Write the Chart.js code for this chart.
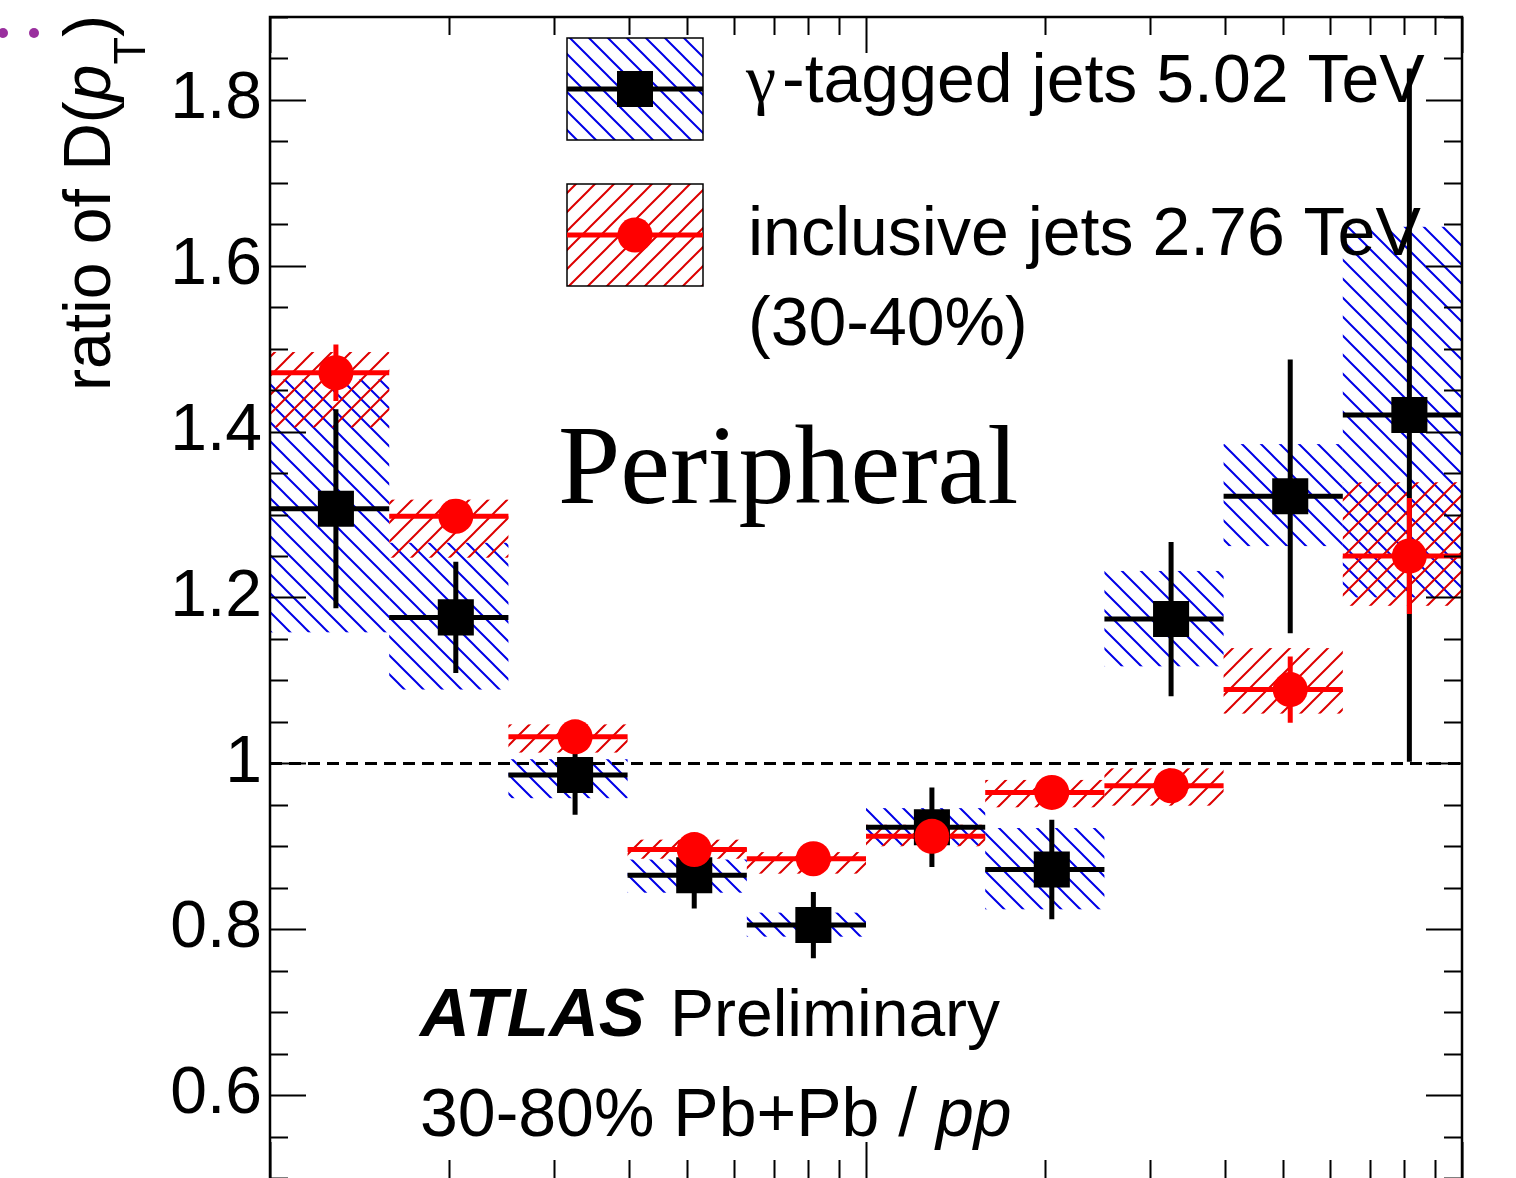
<!DOCTYPE html>
<html>
<head>
<meta charset="utf-8">
<script src="https://cdn.jsdelivr.net/npm/chart.js@4.4.0/dist/chart.umd.min.js"></script>
<style>
  html, body { margin: 0; padding: 0; background: #fff; overflow: hidden; }
  #wrap { width: 1516px; height: 1178px; }
</style>
</head>
<body>
<div id="wrap"><canvas id="chart" width="1516" height="1178"></canvas></div>
<script>
// pT bins (log axis 1..100, five bins per decade), points sit at the arithmetic bin centre
const binEdges = [1, 1.585, 2.512, 3.981, 6.310, 10, 15.85, 25.12, 39.81, 63.10, 100];
const binCenters = [1.29, 2.05, 3.25, 5.15, 8.16, 12.9, 20.5, 32.5, 51.5, 81.6];

// gamma-tagged jets 5.02 TeV
const gammaRatio = [1.307, 1.176, 0.986, 0.865, 0.805, 0.923, 0.872, 1.174, 1.322, 1.420];
const gammaStat = [0.120, 0.067, 0.048, 0.040, 0.040, 0.048, 0.060, 0.093, 0.165, 0.418];
const gammaSystLo = [1.158, 1.089, 0.958, 0.844, 0.791, 0.901, 0.824, 1.117, 1.262, 1.200];
const gammaSystHi = [1.463, 1.266, 1.005, 0.884, 0.820, 0.946, 0.922, 1.232, 1.385, 1.647];

// inclusive jets 2.76 TeV (30-40%)
const inclRatio = [1.471, 1.298, 1.032, 0.896, 0.885, 0.912, 0.965, 0.973, 1.089, 1.250];
const inclStat = [0.034, 0.015, 0.012, 0.010, 0.010, 0.010, 0.012, 0.012, 0.040, 0.070];
const inclSystLo = [1.405, 1.248, 1.013, 0.885, 0.867, 0.900, 0.947, 0.949, 1.060, 1.190];
const inclSystHi = [1.496, 1.318, 1.047, 0.908, 0.893, 0.926, 0.980, 0.994, 1.139, 1.339];

const yTickLabels = [0.6, 0.8, 1, 1.2, 1.4, 1.6, 1.8];
const legendLabels = ['γ-tagged jets 5.02 TeV', 'inclusive jets 2.76 TeV'];

const SANS = '"Liberation Sans", Arial, Helvetica, sans-serif';
const SERIF = '"Liberation Serif", "Times New Roman", serif';
const BLUE = '#0000e6';
const RED = '#ff0000';
const RED_HATCH = '#dd0000';

let patterns = null;
function hatch(ctx, color, rising) {
  const s = 19;
  const c = document.createElement('canvas');
  c.width = s; c.height = s;
  const g = c.getContext('2d');
  g.strokeStyle = color;
  g.lineWidth = 2;
  g.beginPath();
  if (rising) {
    g.moveTo(-2, s + 2); g.lineTo(s + 2, -2);
    g.moveTo(-2, 2); g.lineTo(2, -2);
    g.moveTo(s - 2, s + 2); g.lineTo(s + 2, s - 2);
  } else {
    g.moveTo(-2, -2); g.lineTo(s + 2, s + 2);
    g.moveTo(s - 2, -2); g.lineTo(s + 2, 2);
    g.moveTo(-2, s - 2); g.lineTo(2, s + 2);
  }
  g.stroke();
  return ctx.createPattern(c, 'repeat');
}

function drawBoxes(ctx, x, y, lo, hi, fill) {
  ctx.fillStyle = fill;
  lo.forEach((v, i) => {
    const x0 = x.getPixelForValue(binEdges[i]);
    const x1 = x.getPixelForValue(binEdges[i + 1]);
    const y0 = y.getPixelForValue(hi[i]);
    const y1 = y.getPixelForValue(v);
    ctx.fillRect(x0, y0, x1 - x0, y1 - y0);
  });
}

function drawErrors(ctx, x, y, vals, errs, color) {
  ctx.strokeStyle = color;
  ctx.lineWidth = 5;
  ctx.lineCap = 'butt';
  vals.forEach((v, i) => {
    const xc = x.getPixelForValue(binCenters[i]);
    const yc = y.getPixelForValue(v);
    ctx.beginPath();
    ctx.moveTo(x.getPixelForValue(binEdges[i]), yc);
    ctx.lineTo(x.getPixelForValue(binEdges[i + 1]), yc);
    ctx.moveTo(xc, y.getPixelForValue(v + errs[i]));
    ctx.lineTo(xc, y.getPixelForValue(v - errs[i]));
    ctx.stroke();
  });
}

function drawFrame(ctx, a, x, y) {
  ctx.strokeStyle = '#000';
  ctx.lineWidth = 2;
  ctx.beginPath();
  for (let k = 10; k <= 38; k++) {
    const py = Math.round(y.getPixelForValue(k * 0.05)) + 0.5;
    const len = k % 4 === 0 ? 36 : 18;
    ctx.moveTo(a.left, py); ctx.lineTo(a.left + len, py);
    ctx.moveTo(a.right, py); ctx.lineTo(a.right - len, py);
  }
  [1, 10].forEach((d) => {
    for (let m = 1; m <= 10; m++) {
      const px = Math.round(x.getPixelForValue(m * d)) + 0.5;
      const len = (m === 1 || m === 10) ? 36 : 18;
      ctx.moveTo(px, a.top); ctx.lineTo(px, a.top + len);
      ctx.moveTo(px, a.bottom); ctx.lineTo(px, a.bottom - len);
    }
  });
  ctx.stroke();
  ctx.lineWidth = 2.5;
  ctx.beginPath();
  ctx.moveTo(a.left, a.bottom + 2);
  ctx.lineTo(a.left, a.top);
  ctx.lineTo(a.right, a.top);
  ctx.lineTo(a.right, a.bottom + 2);
  ctx.stroke();
}

function drawYTitle(ctx) {
  const parts = [
    ['ratio of D(', `66px ${SANS}`, 0],
    ['p', `italic 66px ${SANS}`, 0],
    ['T', `45px ${SANS}`, 35],
    [')', `66px ${SANS}`, 0]
  ];
  let total = 0;
  const widths = parts.map(([t, f]) => { ctx.font = f; const w = ctx.measureText(t).width; total += w; return w; });
  ctx.save();
  ctx.translate(110, 15 + total);
  ctx.rotate(-Math.PI / 2);
  ctx.fillStyle = '#000';
  ctx.textBaseline = 'alphabetic';
  ctx.textAlign = 'left';
  let pos = 0;
  parts.forEach(([t, f, dy], i) => { ctx.font = f; ctx.fillText(t, pos, dy); pos += widths[i]; });
  ctx.restore();
}

function drawLegend(ctx) {
  const rows = [
    { top: 38, fill: patterns.blue, line: '#000', marker: 'rect' },
    { top: 184, fill: patterns.red, line: RED, marker: 'circle' }
  ];
  rows.forEach((r) => {
    const x0 = 567, w = 136, h = 102, cy = r.top + h / 2;
    ctx.fillStyle = r.fill;
    ctx.fillRect(x0, r.top, w, h);
    ctx.strokeStyle = '#000';
    ctx.lineWidth = 1.5;
    ctx.strokeRect(x0, r.top, w, h);
    ctx.strokeStyle = r.line;
    ctx.lineWidth = 5;
    ctx.beginPath(); ctx.moveTo(x0, cy); ctx.lineTo(x0 + w, cy); ctx.stroke();
    if (r.marker === 'rect') {
      ctx.fillStyle = '#000';
      ctx.fillRect(635 - 18, cy - 18, 36, 36);
    } else {
      ctx.fillStyle = RED;
      ctx.beginPath(); ctx.arc(635, cy, 17.5, 0, Math.PI * 2); ctx.fill();
    }
  });
  ctx.fillStyle = '#000';
  ctx.textAlign = 'left';
  ctx.textBaseline = 'alphabetic';
  ctx.font = `68px ${SERIF}`;
  ctx.fillText(legendLabels[0].slice(0, 1), 746, 102);
  ctx.font = `68px ${SANS}`;
  ctx.fillText(legendLabels[0].slice(1), 782, 102);
  ctx.fillText(legendLabels[1], 748, 255);
  ctx.fillText('(30-40%)', 748, 345);
}

function drawTexts(ctx) {
  ctx.fillStyle = '#000';
  ctx.textAlign = 'left';
  ctx.textBaseline = 'alphabetic';
  ctx.font = `112px ${SERIF}`;
  ctx.fillText('Peripheral', 558, 503);
  ctx.font = `italic bold 69px ${SANS}`;
  ctx.fillText('ATLAS', 420, 1036);
  ctx.font = `66px ${SANS}`;
  ctx.fillText('Preliminary', 670, 1036);
  ctx.font = `68px ${SANS}`;
  const main = '30-80% Pb+Pb / ';
  ctx.fillText(main, 420, 1136);
  const w = ctx.measureText(main).width;
  ctx.font = `italic 68px ${SANS}`;
  ctx.fillText('pp', 420 + w, 1136);
  // stray marker from the neighbouring panel
  ctx.fillStyle = '#9a2f9e';
  [3, 34].forEach((px) => { ctx.beginPath(); ctx.arc(px, 33, 5, 0, Math.PI * 2); ctx.fill(); });
}

const rootStyle = {
  id: 'rootStyle',
  beforeDatasetsDraw(chart) {
    const { ctx, chartArea: a, scales: { x, y } } = chart;
    if (!patterns) patterns = { blue: hatch(ctx, BLUE, false), red: hatch(ctx, RED_HATCH, true) };
    ctx.save();
    drawBoxes(ctx, x, y, gammaSystLo, gammaSystHi, patterns.blue);
    drawBoxes(ctx, x, y, inclSystLo, inclSystHi, patterns.red);
    const y1 = Math.round(y.getPixelForValue(1)) + 0.5;
    ctx.strokeStyle = '#000';
    ctx.lineWidth = 3;
    ctx.setLineDash([12, 7]);
    ctx.beginPath(); ctx.moveTo(a.left, y1); ctx.lineTo(a.right, y1); ctx.stroke();
    ctx.setLineDash([]);
    drawErrors(ctx, x, y, gammaRatio, gammaStat, '#000');
    drawErrors(ctx, x, y, inclRatio, inclStat, RED);
    ctx.restore();
  },
  afterDraw(chart) {
    const { ctx, chartArea: a, scales: { x, y } } = chart;
    ctx.save();
    drawFrame(ctx, a, x, y);
    drawYTitle(ctx);
    drawLegend(ctx);
    drawTexts(ctx);
    ctx.restore();
  }
};

new Chart(document.getElementById('chart'), {
  type: 'scatter',
  data: {
    datasets: [
      {
        label: legendLabels[1],
        data: binCenters.map((x, i) => ({ x, y: inclRatio[i] })),
        pointStyle: 'circle', pointRadius: 17.5, backgroundColor: RED, borderWidth: 0, order: 0
      },
      {
        label: legendLabels[0],
        data: binCenters.map((x, i) => ({ x, y: gammaRatio[i] })),
        pointStyle: 'rect', pointRadius: 25.5, backgroundColor: '#000', borderWidth: 0, order: 1
      }
    ]
  },
  options: {
    responsive: false,
    animation: false,
    devicePixelRatio: 1,
    events: [],
    layout: { autoPadding: false, padding: { left: 0, right: 54, top: 17, bottom: 0 } },
    plugins: { legend: { display: false }, tooltip: { enabled: false } },
    scales: {
      x: { type: 'logarithmic', min: 1, max: 100, display: false },
      y: {
        type: 'linear', min: 0.5, max: 1.9,
        grid: { display: false, drawTicks: false },
        border: { display: false },
        afterBuildTicks: (s) => { s.ticks = yTickLabels.map((v) => ({ value: v })); },
        afterFit: (s) => { s.width = 270; s.paddingTop = 0; s.paddingBottom = 0; },
        ticks: { autoSkip: false, padding: 8, color: '#000', font: { family: SANS, size: 66 }, callback: (v) => String(v) }
      }
    }
  },
  plugins: [rootStyle]
});
</script>
</body>
</html>
